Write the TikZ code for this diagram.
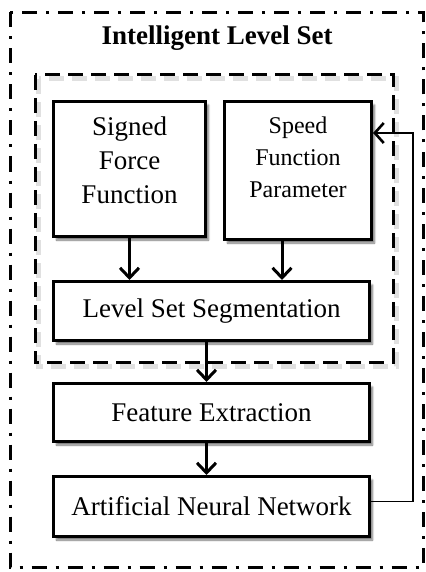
\documentclass[tikz,border=0pt]{standalone}
\usepackage{fontspec}
\setmainfont{Liberation Serif}
\usetikzlibrary{arrows.meta,shadows.blur,calc}
\newcommand\liftbox[2]{\raisebox{#1}[\height][\depth]{\begin{tabular}{@{}c@{}}#2\end{tabular}}}
\begin{document}
\begin{tikzpicture}[x=1pt,y=1pt,
  box/.style={draw,line width=3pt,fill=white,rectangle,align=center,
    font=\fontsize{27}{34}\selectfont,inner sep=0pt,
    blur shadow={shadow xshift=3pt,shadow yshift=-3.5pt,shadow blur steps=8,shadow opacity=55}},
  flow/.style={line width=3pt,-{Straight Barb[length=10pt,width=19pt]}},
  fb/.style={line width=1.3pt,-{Straight Barb[length=9pt,width=20pt,line width=2.6pt]}},
  frameshadow/.style={line width=5pt,black,opacity=0.12,dash pattern=on 15pt off 8pt}]
\useasboundingbox (0,0) rectangle (425,-572);
% outer dash-dot frame
\draw[line width=3pt,dash pattern=on 15pt off 9pt on 3pt off 9pt] (10,-12.5) rectangle (423,-567);
\node[font=\fontsize{27}{32}\selectfont\bfseries] (title) at (217,-38) {Intelligent Level Set};
% inner dashed frame with soft shadow
\draw[frameshadow] (38.5,-79) rectangle (396.5,-366);
\draw[line width=3pt,dash pattern=on 15pt off 8pt] (35,-75) rectangle (393,-362);
\node[box,minimum width=152pt,minimum height=135pt] (sff) at (129.5,-169) {\liftbox{6pt}{Signed\\Force\\Function}};
\node[box,minimum width=147pt,minimum height=138pt,font=\fontsize{24}{32}\selectfont] (sfp) at (298,-170.5) {\liftbox{11pt}{Speed\\Function\\Parameter}};
\node[box,minimum width=316pt,minimum height=59pt] (lss) at (211.5,-311) {Level Set Segmentation};
\node[box,minimum width=316pt,minimum height=58pt] (fe) at (211.5,-412.5) {Feature Extraction};
\node[box,minimum width=316pt,minimum height=60pt] (ann) at (211.5,-506.5) {Artificial Neural Network};
\draw[flow] (sff.south) -- (sff.south |- lss.north);
\draw[flow] ([xshift=-16pt]sfp.south) -- ([xshift=-16pt]sfp.south |- lss.north);
\draw[flow] ([xshift=-5pt]lss.south) -- ([xshift=-5pt]lss.south |- fe.north);
\draw[flow] ([xshift=-5pt]fe.south) -- ([xshift=-5pt]fe.south |- ann.north);
\coordinate (fbx) at (413,0);
\coordinate (fbt) at ([yshift=37.5pt]sfp.east);
\coordinate (fbs) at ([yshift=5pt]ann.east);
\draw[fb] (fbs) -| (fbx |- fbt) -- (fbt);
\end{tikzpicture}
\end{document}
